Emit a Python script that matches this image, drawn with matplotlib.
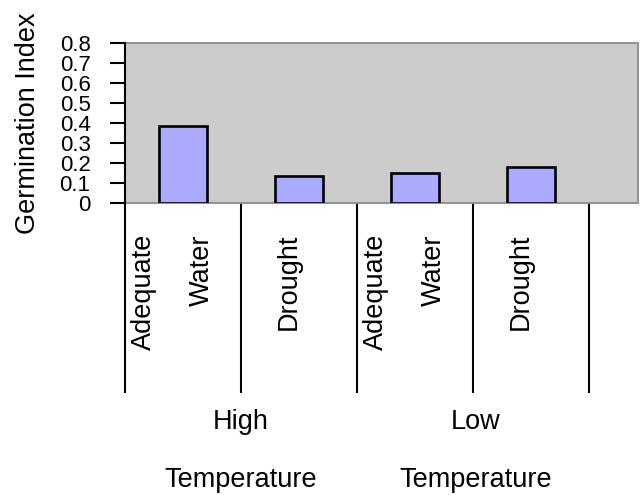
import matplotlib
matplotlib.use("Agg")
import matplotlib.pyplot as plt
import numpy as np

# data
conditions = ["Adequate Water", "Drought", "Adequate Water", "Drought"]
temperatures = ["High Temperature", "Low Temperature"]
germination = [0.385, 0.135, 0.15, 0.18]
yticks = [0, 0.1, 0.2, 0.3, 0.4, 0.5, 0.6, 0.7, 0.8]

plt.rcParams["font.family"] = ["Liberation Sans", "DejaVu Sans"]

fig = plt.figure(figsize=(6.4, 4.95), dpi=100)
ax = fig.add_axes([125 / 640, 1 - 203 / 495, 513 / 640, 160 / 495])
ax.set_facecolor("#cccccc")

x = np.arange(len(germination)) + 0.5
ax.bar(x, germination, width=0.42, color="#aaaaff", edgecolor="black", linewidth=1.9, zorder=3)

ax.set_xlim(0, 513 / 116)
ax.set_ylim(0, 0.8)
ax.set_yticks(yticks)
ax.set_yticklabels([f"{v:g}" for v in yticks], fontsize=16)
ax.tick_params(axis="y", direction="out", length=10.8, width=1.5, pad=14, color="black")
for lbl in ax.get_yticklabels():
    lbl.set_va("center_baseline")

# category separators drawn as long x ticks
ax.set_xticks(np.arange(len(germination) + 1))
ax.set_xticklabels([])
ax.tick_params(axis="x", direction="out", length=190 * 0.72, width=1.5, color="black")

for side in ["top", "right", "bottom"]:
    ax.spines[side].set_color("#939393")
    ax.spines[side].set_linewidth(1.5)
ax.spines["left"].set_color("black")
ax.spines["left"].set_linewidth(1.5)
ax.spines["left"].set_zorder(4)

ax.set_ylabel("Germination Index", fontsize=19.5)
ax.yaxis.set_label_coords(-0.164, 0.5)

# inner level: condition labels, rotated, one text per wrapped line
line_step = 0.5
for i, cond in enumerate(conditions):
    words = cond.split()
    start = i + 0.41 - line_step * (len(words) - 1) / 2
    for k, w in enumerate(words):
        ax.annotate(w, xy=(start + k * line_step, 0), xycoords=("data", "axes fraction"),
                    xytext=(0, -31), textcoords="offset pixels",
                    rotation=90, ha="center", va="top", fontsize=19.5)

# outer level: temperature groups
for g, temp in enumerate(temperatures):
    cx = 2 * g + 1
    for k, w in enumerate(temp.split()):
        ax.annotate(w, xy=(cx, 0), xycoords=("data", "axes fraction"),
                    xytext=(3 * g, -226 - 58 * k), textcoords="offset pixels",
                    ha="center", va="baseline", fontsize=19.5)

fig.savefig("out.png", dpi=100)
